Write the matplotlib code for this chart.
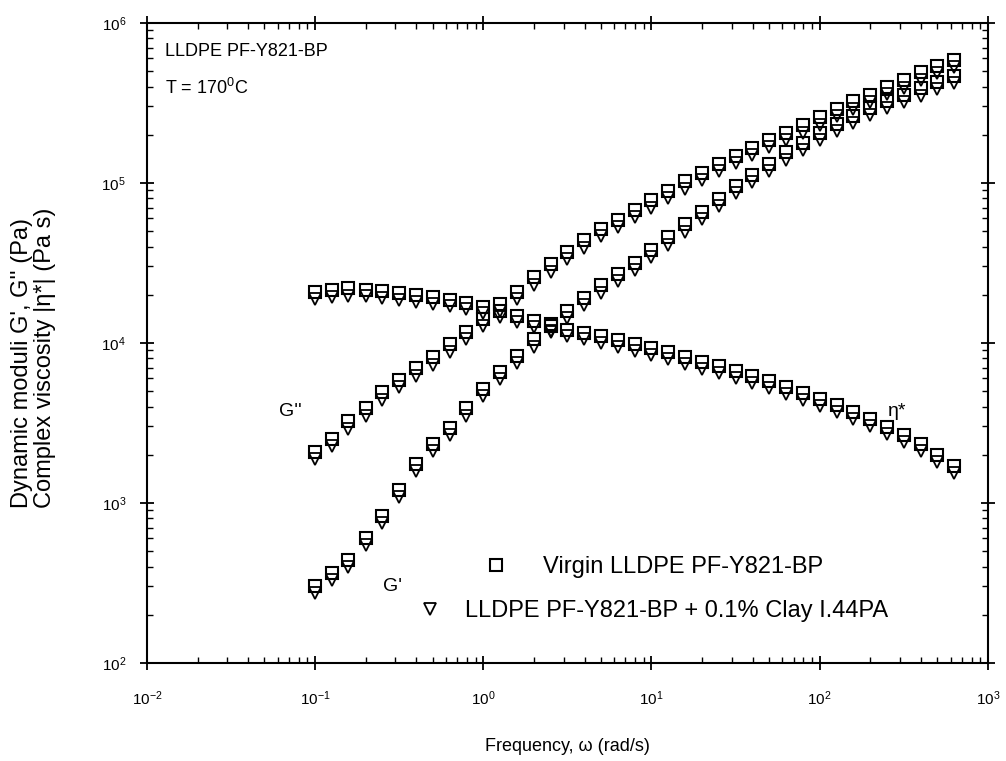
import matplotlib
matplotlib.use("Agg")
import matplotlib.pyplot as plt
from matplotlib.lines import Line2D
from matplotlib.ticker import LogLocator, NullFormatter

plt.rcParams['font.family'] = ['Liberation Sans', 'DejaVu Sans']
plt.rcParams['mathtext.fontset'] = 'custom'
plt.rcParams['mathtext.rm'] = 'Liberation Sans'
plt.rcParams['mathtext.it'] = 'Liberation Sans:italic'

# Angular frequency sweep (rad/s)
omega = [0.1, 0.126, 0.158, 0.2, 0.251, 0.316, 0.398, 0.501, 0.631, 0.794,
         1.0, 1.26, 1.58, 2.0, 2.51, 3.16, 3.98, 5.01, 6.31, 7.94,
         10.0, 12.6, 15.8, 20.0, 25.1, 31.6, 39.8, 50.1, 63.1, 79.4,
         100.0, 126.0, 158.0, 200.0, 251.0, 316.0, 398.0, 501.0, 631.0]

# Virgin LLDPE PF-Y821-BP
gp_virgin = [302, 363, 437, 603, 832, 1200, 1740, 2340, 2950, 3890,
             5130, 6610, 8320, 10500, 13200, 15800, 19100, 22900, 26900, 31600,
             38000, 45700, 55000, 66100, 79400, 95500, 112000, 132000, 155000, 178000,
             204000, 234000, 263000, 295000, 324000, 355000, 389000, 427000, 468000]
gpp_virgin = [2090, 2510, 3240, 3890, 4900, 5890, 6920, 8130, 9770, 11700,
              14100, 17400, 20900, 25700, 30900, 37200, 43700, 51300, 58900, 67600,
              77600, 89100, 102000, 115000, 132000, 148000, 166000, 186000, 204000, 229000,
              257000, 288000, 324000, 355000, 398000, 437000, 490000, 537000, 589000]
eta_virgin = [20800, 21400, 22100, 21400, 21100, 20600, 20000, 19400, 18600, 17800,
              16800, 15800, 14800, 13700, 12800, 12100, 11600, 11100, 10400, 9860,
              9310, 8790, 8190, 7600, 7180, 6680, 6220, 5790, 5310, 4880,
              4470, 4100, 3710, 3350, 2990, 2660, 2340, 2000, 1700]

# LLDPE PF-Y821-BP + 0.1% Clay I.44PA
gp_clay = [275, 330, 395, 545, 750, 1090, 1570, 2110, 2660, 3500,
           4620, 5950, 7490, 9450, 11900, 14200, 17200, 20600, 24200, 28400,
           34200, 41100, 49500, 59500, 71500, 86000, 101000, 119000, 139000, 160000,
           184000, 211000, 237000, 266000, 292000, 320000, 350000, 384000, 421000]
gpp_clay = [1880, 2270, 2900, 3510, 4410, 5300, 6240, 7320, 8790, 10600,
            12700, 15700, 18800, 23100, 27800, 33500, 39300, 46200, 53000, 60800,
            69800, 80200, 91900, 104000, 119000, 133000, 149000, 168000, 184000, 206000,
            231000, 260000, 291000, 320000, 358000, 393000, 441000, 483000, 530000]
eta_clay = [18900, 19300, 19700, 19500, 19100, 18600, 18100, 17600, 16900, 16200,
            15300, 14500, 13500, 12600, 11700, 11000, 10500, 10000, 9450, 8920,
            8420, 7950, 7400, 6880, 6490, 6040, 5620, 5240, 4800, 4410,
            4040, 3710, 3360, 3030, 2700, 2400, 2110, 1800, 1540]

label_virgin = "Virgin LLDPE PF-Y821-BP"
label_clay = "LLDPE PF-Y821-BP + 0.1% Clay I.44PA"

fig = plt.figure(figsize=(10.06, 7.61), dpi=100)
ax = fig.add_axes([0.146, 0.129, 0.836, 0.841])

sq = dict(marker='s', linestyle='none', markersize=8.5, markerfacecolor='none',
          markeredgecolor='black', markeredgewidth=1.5)
tri = dict(marker='v', linestyle='none', markersize=8.5, markerfacecolor='none',
           markeredgecolor='black', markeredgewidth=1.3)

for series in (gp_clay, gpp_clay, eta_clay):
    ax.plot(omega, series, **tri)
for series in (gp_virgin, gpp_virgin, eta_virgin):
    ax.plot(omega, series, **sq)

ax.set_xscale('log')
ax.set_yscale('log')
ax.set_xlim(1e-2, 1e3)
ax.set_ylim(1e2, 1e6)

for axis in (ax.xaxis, ax.yaxis):
    axis.set_major_locator(LogLocator(base=10, numticks=10))
    axis.set_minor_locator(LogLocator(base=10, subs=range(2, 10), numticks=20))
    axis.set_minor_formatter(NullFormatter())

ax.tick_params(which='major', direction='inout', length=10, width=1.3,
               top=True, right=True, labelsize=11)
ax.tick_params(axis='x', which='major', pad=14)
ax.tick_params(axis='y', which='major', pad=10)
ax.tick_params(which='minor', direction='in', length=4, width=1.0,
               top=True, right=True)
for sp in ax.spines.values():
    sp.set_linewidth(1.5)

ax.set_xlabel("Frequency, \u03c9 (rad/s)", fontsize=13, labelpad=22)

# Two-line y axis title, both lines starting at the same height
fig.text(22 / 1006, 1 - 508 / 761, "Dynamic moduli G', G'' (Pa)",
         rotation=90, ha='center', va='bottom', fontsize=17)
fig.text(45 / 1006, 1 - 508 / 761, "Complex viscosity |\u03b7*| (Pa s)",
         rotation=90, ha='center', va='bottom', fontsize=17)

ax.text(0.022, 0.955, "LLDPE PF-Y821-BP", transform=ax.transAxes,
        fontsize=13, va='center', ha='left')
ax.text(0.022, 0.898, "T = 170$^{0}$C", transform=ax.transAxes,
        fontsize=13, va='center', ha='left')

ax.text(0.071, 3.7e3, "G''", fontsize=14, ha='center', va='center')
ax.text(0.29, 3.0e2, "G'", fontsize=14, ha='center', va='center')
ax.text(290, 3.7e3, "\u03b7*", fontsize=14, ha='center', va='center')

leg_kw = dict(loc='center left', frameon=False, fontsize=17, handlelength=1.0,
              borderpad=0, borderaxespad=0)
leg1 = ax.legend([Line2D([], [], **sq)], [label_virgin],
                 bbox_to_anchor=(0.401, 0.15), handletextpad=1.5, **leg_kw)
ax.add_artist(leg1)
ax.legend([Line2D([], [], **tri)], [label_clay],
          bbox_to_anchor=(0.323, 0.081), handletextpad=0.95, **leg_kw)

fig.savefig("out.png", dpi=100)
